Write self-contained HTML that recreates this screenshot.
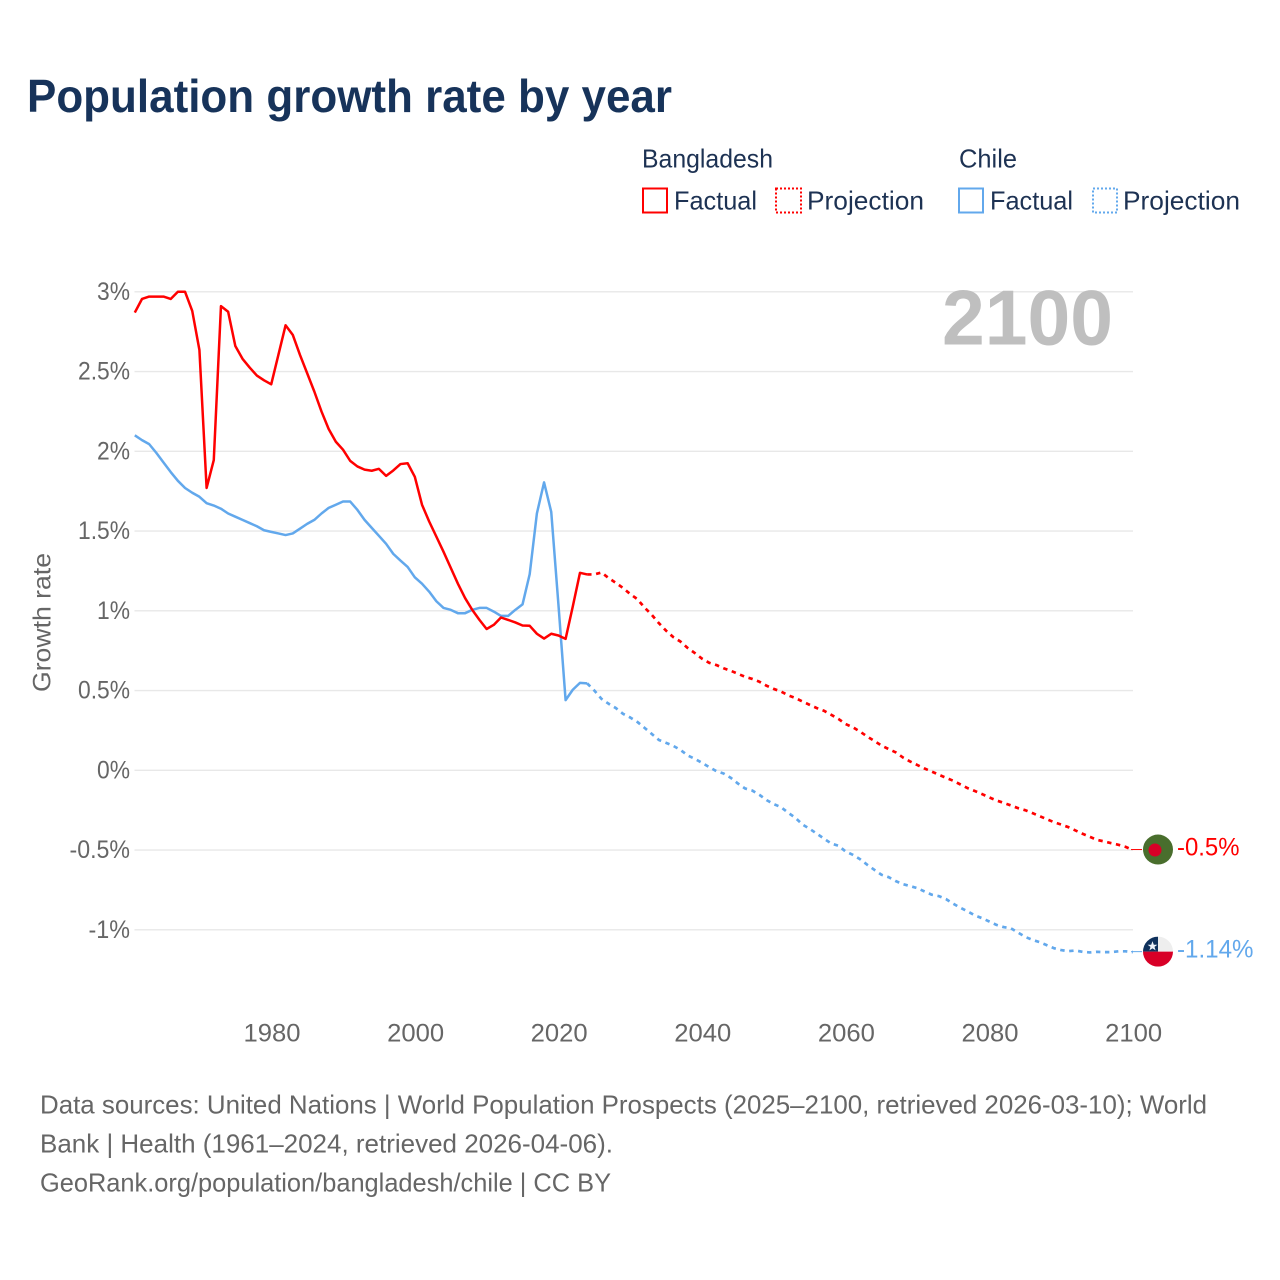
<!DOCTYPE html>
<html lang="en">
<head>
<meta charset="utf-8">
<title>Population growth rate by year</title>
<style>
html,body{margin:0;padding:0;background:#fff;width:1280px;height:1280px;overflow:hidden}
svg{display:block;font-family:"Liberation Sans",sans-serif}
</style>
</head>
<body>
<svg id="chart" xmlns="http://www.w3.org/2000/svg" width="1280" height="1280" viewBox="0 0 1280 1280">
  <rect x="0" y="0" width="1280" height="1280" fill="#ffffff"/>
  <text x="27" y="112" font-size="46.5" font-weight="700" fill="#17335a" textLength="645" lengthAdjust="spacingAndGlyphs">Population growth rate by year</text>

  <g font-size="26" fill="#1d3253">
    <text x="642" y="167.5" textLength="131" lengthAdjust="spacingAndGlyphs">Bangladesh</text>
    <text x="959" y="167.5" textLength="58" lengthAdjust="spacingAndGlyphs">Chile</text>
    <rect x="643" y="188.5" width="24" height="24" fill="none" stroke="#ff0000" stroke-width="2"/>
    <text x="674" y="209.5" textLength="83" lengthAdjust="spacingAndGlyphs">Factual</text>
    <rect x="776" y="188.5" width="25" height="24" fill="none" stroke="#ff0000" stroke-width="2" stroke-dasharray="2 2"/>
    <text x="807" y="209.5" textLength="117" lengthAdjust="spacingAndGlyphs">Projection</text>
    <rect x="959" y="188.5" width="24" height="24" fill="none" stroke="#62a8ec" stroke-width="2"/>
    <text x="990" y="209.5" textLength="83" lengthAdjust="spacingAndGlyphs">Factual</text>
    <rect x="1093" y="188.5" width="24" height="24" fill="none" stroke="#62a8ec" stroke-width="2" stroke-dasharray="2 2"/>
    <text x="1123" y="209.5" textLength="117" lengthAdjust="spacingAndGlyphs">Projection</text>
  </g>

  <g id="grid"></g>
  <text x="942" y="344.5" font-size="78" font-weight="700" fill="#bfbfbf" textLength="171" lengthAdjust="spacingAndGlyphs">2100</text>
  <g id="yticks" font-size="25" fill="#666666"></g>
  <g id="xticks" font-size="25" fill="#666666"></g>
  <text transform="translate(50.5 692) rotate(-90)" font-size="25" fill="#666666" textLength="139" lengthAdjust="spacingAndGlyphs">Growth rate</text>
  <g id="series"></g>

  <defs>
    <clipPath id="flag-clip"><circle cx="0" cy="0" r="15"/></clipPath>
  </defs>
  <g id="flag-bd">
    <circle cx="0" cy="0" r="15" fill="#496e2d"/>
    <circle cx="-3" cy="0.5" r="6.5" fill="#d80027"/>
  </g>
  <g id="flag-cl">
    <g clip-path="url(#flag-clip)">
      <rect x="-15" y="-15" width="30" height="15" fill="#eeeeee"/>
      <rect x="-15" y="-15" width="15" height="15" fill="#0f315c"/>
      <rect x="-15" y="0" width="30" height="15" fill="#d80027"/>
      <polygon points="-5.5,-10.5 -4.2,-6.9 -0.6,-6.9 -3.5,-4.7 -2.4,-1.2 -5.5,-3.3 -8.6,-1.2 -7.5,-4.7 -10.4,-6.9 -6.8,-6.9" fill="#eef3fa"/>
    </g>
  </g>
  <g id="end-labels" font-size="25"></g>

  <g font-size="26" fill="#666666">
    <text x="40" y="1113.5" textLength="1167" lengthAdjust="spacingAndGlyphs">Data sources: United Nations | World Population Prospects (2025–2100, retrieved 2026-03-10); World</text>
    <text x="40" y="1152.5" textLength="573" lengthAdjust="spacingAndGlyphs">Bank | Health (1961–2024, retrieved 2026-04-06).</text>
    <text x="40" y="1191.5" textLength="571" lengthAdjust="spacingAndGlyphs">GeoRank.org/population/bangladesh/chile | CC BY</text>
  </g>
</svg>
<script>
var factualStartYear = 1961;
var projectionStartYear = 2024;
var yTickValues = [3, 2.5, 2, 1.5, 1, 0.5, 0, -0.5, -1];
var yTickLabels = ["3%", "2.5%", "2%", "1.5%", "1%", "0.5%", "0%", "-0.5%", "-1%"];
var xTickYears = [1980, 2000, 2020, 2040, 2060, 2080, 2100];
var bangladeshFactual = [2.87,2.955,2.97,2.97,2.97,2.955,3.0,3.0,2.88,2.635,1.77,1.945,2.91,2.875,2.66,2.58,2.525,2.475,2.445,2.42,2.605,2.79,2.73,2.605,2.49,2.375,2.25,2.14,2.06,2.01,1.94,1.905,1.885,1.878,1.89,1.846,1.88,1.92,1.925,1.84,1.665,1.56,1.465,1.37,1.27,1.17,1.08,1.006,0.943,0.886,0.912,0.958,0.943,0.927,0.908,0.906,0.856,0.826,0.856,0.845,0.824,1.027,1.238,1.228];
var bangladeshProjection = [1.228,1.228,1.24,1.205,1.175,1.143,1.105,1.073,1.02,0.975,0.922,0.875,0.835,0.807,0.767,0.735,0.70,0.674,0.66,0.64,0.624,0.605,0.586,0.573,0.555,0.53,0.51,0.494,0.47,0.453,0.431,0.41,0.39,0.373,0.348,0.322,0.29,0.27,0.243,0.212,0.184,0.155,0.133,0.112,0.08,0.055,0.033,0.011,-0.008,-0.028,-0.047,-0.066,-0.089,-0.112,-0.13,-0.149,-0.17,-0.189,-0.204,-0.22,-0.237,-0.25,-0.268,-0.287,-0.306,-0.325,-0.34,-0.356,-0.377,-0.398,-0.417,-0.436,-0.446,-0.457,-0.467,-0.48,-0.5];
var chileFactual = [2.10,2.07,2.045,1.99,1.93,1.87,1.815,1.77,1.74,1.715,1.675,1.66,1.64,1.61,1.59,1.57,1.55,1.53,1.505,1.495,1.485,1.475,1.485,1.515,1.545,1.57,1.61,1.645,1.665,1.685,1.685,1.633,1.57,1.52,1.47,1.42,1.357,1.315,1.275,1.21,1.17,1.12,1.06,1.018,1.006,0.985,0.985,1.006,1.018,1.018,0.995,0.968,0.968,1.006,1.04,1.23,1.61,1.805,1.62,1.04,0.44,0.505,0.548,0.545];
var chileProjection = [0.545,0.50,0.448,0.417,0.39,0.354,0.331,0.303,0.266,0.228,0.19,0.172,0.153,0.128,0.093,0.072,0.047,0.02,-0.005,-0.02,-0.047,-0.083,-0.114,-0.127,-0.154,-0.187,-0.212,-0.231,-0.266,-0.298,-0.34,-0.367,-0.398,-0.429,-0.459,-0.473,-0.509,-0.53,-0.557,-0.592,-0.624,-0.655,-0.67,-0.695,-0.714,-0.726,-0.739,-0.76,-0.78,-0.789,-0.808,-0.837,-0.862,-0.885,-0.91,-0.927,-0.948,-0.969,-0.983,-0.99,-1.017,-1.044,-1.063,-1.077,-1.096,-1.115,-1.127,-1.134,-1.13,-1.138,-1.142,-1.138,-1.14,-1.14,-1.135,-1.135,-1.14];
var endLabelBangladesh = "-0.5%";
var endLabelChile = "-1.14%";

var NS = 'http://www.w3.org/2000/svg';
function xScale(year) { return 134.8 + (year - 1961) * 7.18; }
function yScale(value) { return 770.3 - value * 159.5; }
function labelWidth(label) {
  var w = 0;
  for (var i = 0; i < label.length; i++) {
    var c = label.charAt(i);
    w += c === '%' ? 19 : c === '.' ? 5 : c === '-' ? 8.5 : 14;
  }
  return w;
}
function pathFor(values, startYear) {
  var d = '';
  for (var i = 0; i < values.length; i++) {
    d += (i ? 'L' : 'M') + xScale(startYear + i).toFixed(2) + ' ' + yScale(values[i]).toFixed(2);
  }
  return d;
}
function drawLine(name, values, startYear, color, dashed) {
  var p = document.createElementNS(NS, 'path');
  
  
  p.setAttribute('d', pathFor(values, startYear));
  p.setAttribute('fill', 'none');
  p.setAttribute('stroke', color);
  p.setAttribute('stroke-width', dashed ? '2.7' : '2.5');
  p.setAttribute('stroke-linejoin', 'round');
  if (dashed) { p.setAttribute('stroke-dasharray', '4.4 4.6'); }
  document.getElementById('series').appendChild(p);
}
function drawConnector(name, value, color) {
  var l = document.createElementNS(NS, 'line');
  
  
  l.setAttribute('x1', '1131');
  l.setAttribute('x2', '1142');
  l.setAttribute('y1', (yScale(value) - 0.5).toFixed(2));
  l.setAttribute('y2', (yScale(value) - 0.5).toFixed(2));
  l.setAttribute('stroke', color);
  l.setAttribute('stroke-width', '1');
  document.getElementById('series').appendChild(l);
}
function drawEndLabel(name, label, value, color) {
  var t = document.createElementNS(NS, 'text');
  
  
  t.setAttribute('x', '1177');
  t.setAttribute('y', (yScale(value) + 5.6).toFixed(2));
  t.setAttribute('fill', color);
  t.setAttribute('textLength', String(labelWidth(label) + 2));
  t.setAttribute('lengthAdjust', 'spacingAndGlyphs');
  t.textContent = label;
  document.getElementById('end-labels').appendChild(t);
}

yTickValues.forEach(function (v, i) {
  var g = document.createElementNS(NS, 'rect');
  
  
  g.setAttribute('x', '134.5');
  g.setAttribute('y', (yScale(v) - 0.7).toFixed(2));
  g.setAttribute('width', '998.5');
  g.setAttribute('height', '1.4');
  g.setAttribute('fill', '#e8e8e8');
  document.getElementById('grid').appendChild(g);

  var t = document.createElementNS(NS, 'text');
  
  
  t.setAttribute('x', (130 - labelWidth(yTickLabels[i])).toFixed(1));
  t.setAttribute('y', (yScale(v) + 8).toFixed(2));
  t.setAttribute('textLength', String(labelWidth(yTickLabels[i])));
  t.setAttribute('lengthAdjust', 'spacingAndGlyphs');
  t.textContent = yTickLabels[i];
  document.getElementById('yticks').appendChild(t);
});

xTickYears.forEach(function (year) {
  var t = document.createElementNS(NS, 'text');
  
  
  t.setAttribute('x', (xScale(year) - 27.7).toFixed(1));
  t.setAttribute('y', '1041.5');
  t.setAttribute('textLength', '57');
  t.setAttribute('lengthAdjust', 'spacingAndGlyphs');
  t.textContent = String(year);
  document.getElementById('xticks').appendChild(t);
});

drawLine('bangladesh-projection-line', bangladeshProjection, projectionStartYear, '#ff0000', true);
drawLine('chile-projection-line', chileProjection, projectionStartYear, '#62a8ec', true);
drawLine('chile-factual-line', chileFactual, factualStartYear, '#62a8ec', false);
drawLine('bangladesh-factual-line', bangladeshFactual, factualStartYear, '#ff0000', false);

var bdEnd = bangladeshProjection[bangladeshProjection.length - 1];
var clEnd = chileProjection[chileProjection.length - 1];
drawConnector('bangladesh-end-connector', bdEnd, '#ff0000');
drawConnector('chile-end-connector', clEnd, '#62a8ec');
document.getElementById('flag-bd').setAttribute('transform', 'translate(1158 ' + (yScale(bdEnd) - 0.5).toFixed(2) + ')');
document.getElementById('flag-cl').setAttribute('transform', 'translate(1158 ' + (yScale(clEnd) - 0.5).toFixed(2) + ')');
drawEndLabel('bangladesh-end-label', endLabelBangladesh, bdEnd, '#ff0000');
drawEndLabel('chile-end-label', endLabelChile, clEnd, '#62a8ec');
</script>
</body>
</html>
